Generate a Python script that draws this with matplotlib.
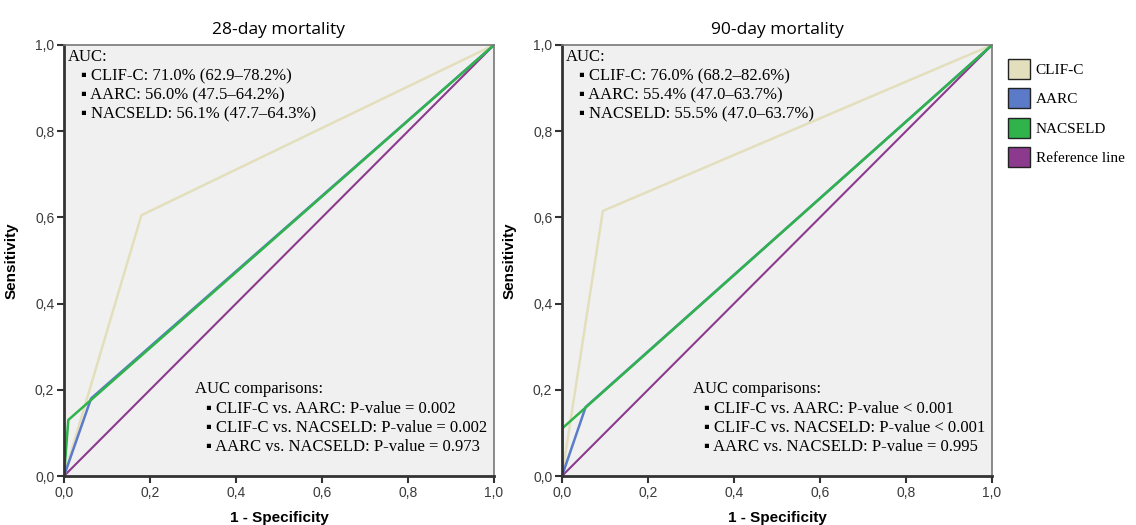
import matplotlib.pyplot as plt
from matplotlib.patches import Patch

# ROC curve points (1 - specificity, sensitivity)
titles = ["28-day mortality", "90-day mortality"]
series = ["CLIF-C", "AARC", "NACSELD", "Reference line"]
colors = ["#e3dfbd", "#5b7bc9", "#2fb34a", "#8c3a8e"]

clif_x = [[0.0, 0.18, 1.0], [0.0, 0.095, 1.0]]
clif_y = [[0.0, 0.605, 1.0], [0.0, 0.615, 1.0]]
aarc_x = [[0.0, 0.063, 1.0], [0.0, 0.055, 1.0]]
aarc_y = [[0.0, 0.18, 1.0], [0.0, 0.16, 1.0]]
nac_x = [[0.0, 0.01, 1.0], [0.0, 0.0, 1.0]]
nac_y = [[0.0, 0.13, 1.0], [0.0, 0.11, 1.0]]
ref_x = [0.0, 1.0]
ref_y = [0.0, 1.0]

auc_text = [
    ["CLIF-C: 71.0% (62.9\u201378.2%)", "AARC: 56.0% (47.5\u201364.2%)", "NACSELD: 56.1% (47.7\u201364.3%)"],
    ["CLIF-C: 76.0% (68.2\u201382.6%)", "AARC: 55.4% (47.0\u201363.7%)", "NACSELD: 55.5% (47.0\u201363.7%)"],
]
cmp_text = [
    ["CLIF-C vs. AARC: P-value = 0.002", "CLIF-C vs. NACSELD: P-value = 0.002", "AARC vs. NACSELD: P-value = 0.973"],
    ["CLIF-C vs. AARC: P-value < 0.001", "CLIF-C vs. NACSELD: P-value < 0.001", "AARC vs. NACSELD: P-value = 0.995"],
]
ticks = [0.0, 0.2, 0.4, 0.6, 0.8, 1.0]
tick_labels = ["0,0", "0,2", "0,4", "0,6", "0,8", "1,0"]

serif = ["Liberation Serif", "DejaVu Sans"]
sans = ["Liberation Sans", "DejaVu Sans"]

fig = plt.figure(figsize=(11.36, 5.25), dpi=100)
lefts = [64 / 1136, 562 / 1136]
w = 430 / 1136
b = 1 - 476 / 525
h = 431 / 525

for i in range(2):
    ax = fig.add_axes([lefts[i], b, w, h])
    ax.set_facecolor("#f0f0f0")
    ax.plot(ref_x, ref_y, color=colors[3], lw=1.5)
    ax.plot(clif_x[i], clif_y[i], color=colors[0], lw=1.8)
    ax.plot(aarc_x[i], aarc_y[i], color=colors[1], lw=1.8)
    ax.plot(nac_x[i], nac_y[i], color=colors[2], lw=1.8)
    ax.set_xlim(0, 1)
    ax.set_ylim(0, 1)
    ax.set_xticks(ticks)
    ax.set_xticklabels(tick_labels)
    ax.set_yticks(ticks)
    ax.set_yticklabels(tick_labels)
    for lab in ax.get_xticklabels() + ax.get_yticklabels():
        lab.set_family(sans)
        lab.set_fontsize(10)
        lab.set_color("#3a3a3a")
    ax.tick_params(direction="out", length=5, width=1.5, color="#333333", pad=2)
    for s in ["left", "bottom"]:
        ax.spines[s].set_color("#333333")
        ax.spines[s].set_linewidth(2)
    for s in ["top", "right"]:
        ax.spines[s].set_color("#777777")
        ax.spines[s].set_linewidth(1.2)
    ax.set_title(titles[i], fontsize=12.5, family=["Open Sans", "DejaVu Sans"], pad=8)
    ax.set_xlabel("1 - Specificity", fontsize=11, fontweight="bold", family=sans, labelpad=8)
    ax.set_ylabel("Sensitivity", fontsize=11, fontweight="bold", family=sans, labelpad=12)

    ax.text(0.01, 0.99, "AUC:", transform=ax.transAxes, va="top", ha="left",
            fontsize=12, family=serif)
    for k, t in enumerate(auc_text[i]):
        ax.text(0.04, 0.99 - 0.044 * (k + 1), "\u25aa " + t, transform=ax.transAxes,
                va="top", ha="left", fontsize=12, family=serif)
    ax.text(0.305, 0.22, "AUC comparisons:", transform=ax.transAxes, va="top", ha="left",
            fontsize=12, family=serif)
    for k, t in enumerate(cmp_text[i]):
        ax.text(0.33, 0.22 - 0.045 * (k + 1), "\u25aa " + t, transform=ax.transAxes,
                va="top", ha="left", fontsize=12, family=serif)

handles = [Patch(facecolor=c, edgecolor="#222222", linewidth=1.0) for c in colors]
fig.legend(handles, series, loc="upper left", bbox_to_anchor=(1008 / 1136, 1 - 59 / 525),
           frameon=False, prop={"family": serif, "size": 11},
           borderpad=0, borderaxespad=0,
           handlelength=1.45, handleheight=1.65, handletextpad=0.35, labelspacing=0.6)

fig.savefig("out.png", dpi=100, facecolor="white")
